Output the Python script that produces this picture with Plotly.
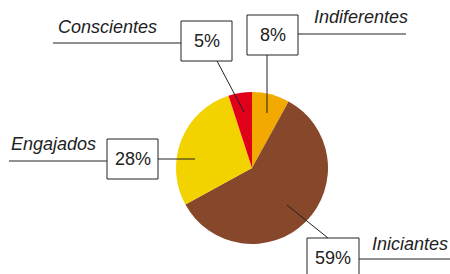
import plotly.graph_objects as go

categories = ["Indiferentes", "Iniciantes", "Engajados", "Conscientes"]
values = [8, 59, 28, 5]
pct_labels = ["8%", "59%", "28%", "5%"]
colors = ["#F2A900", "#87472A", "#F2D300", "#E0001A"]

W, H = 450, 274

def px(x, y):
    return x / W, 1 - y / H

fig = go.Figure(go.Pie(
    labels=categories, values=values, sort=False, direction="clockwise",
    rotation=0, marker=dict(colors=colors, line=dict(width=0)),
    textinfo="none", hoverinfo="label+percent", showlegend=False,
    domain=dict(x=[176 / W, 328 / W], y=[1 - 244 / H, 1 - 92 / H]),
))

shapes = []
annotations = []

# layout of label boxes (pixel positions): box rect, leader line, underline, name position
callouts = {
    "Indiferentes": dict(box=(247, 15, 298, 55), leader=(267, 55, 267, 113),
                         under=(298, 34, 406, 34), name=(312, 17, "left")),
    "Conscientes": dict(box=(181, 21, 232, 61), leader=(217, 61, 244, 112),
                        under=(53, 43, 181, 43), name=(56, 27, "left")),
    "Engajados": dict(box=(107, 139, 158, 179), leader=(158, 159, 195, 159),
                      under=(9, 161, 107, 161), name=(9, 144, "left")),
    "Iniciantes": dict(box=(307, 238, 359, 280), leader=(287, 205, 328, 238),
                       under=(359, 259, 452, 259), name=(370, 244, "left")),
}

for cat, lab in zip(categories, pct_labels):
    c = callouts[cat]
    x0, y0, x1, y1 = c["box"]
    a0, b0 = px(x0, y0)
    a1, b1 = px(x1, y1)
    shapes.append(dict(type="rect", xref="paper", yref="paper", x0=a0, y0=b1, x1=a1, y1=b0,
                       line=dict(color="#222", width=1), fillcolor="white", layer="above"))
    for key in ("leader", "under"):
        lx0, ly0, lx1, ly1 = c[key]
        p0 = px(lx0, ly0)
        p1 = px(lx1, ly1)
        shapes.append(dict(type="line", xref="paper", yref="paper", x0=p0[0], y0=p0[1],
                           x1=p1[0], y1=p1[1], line=dict(color="#222", width=1), layer="above"))
    cx, cy = px((x0 + x1) / 2, (y0 + min(y1, y0 + 40)) / 2)
    annotations.append(dict(text=lab, xref="paper", yref="paper", x=cx, y=cy,
                            showarrow=False, xanchor="center", yanchor="middle",
                            font=dict(size=18, color="#222", family="Liberation Sans, Arial")))
    nx, ny, anc = c["name"]
    nxp, nyp = px(nx, ny)
    annotations.append(dict(text="<i>%s</i>" % cat, xref="paper", yref="paper", x=nxp, y=nyp,
                            showarrow=False, xanchor=anc, yanchor="middle",
                            font=dict(size=18, color="#222", family="Liberation Sans, Arial")))

fig.update_layout(
    width=W, height=H, margin=dict(l=0, r=0, t=0, b=0),
    paper_bgcolor="white", plot_bgcolor="white",
    shapes=shapes, annotations=annotations,
)

fig.write_html("out.html", config={"displayModeBar": False},
               post_script="document.body.style.margin='0';document.body.style.overflow='hidden';")
